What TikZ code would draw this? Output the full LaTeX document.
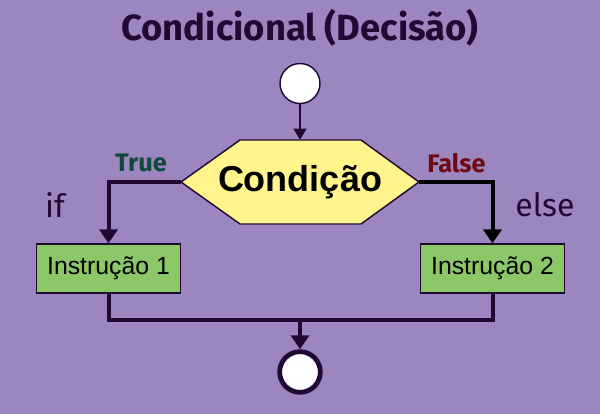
\documentclass[tikz,border=0pt]{standalone}
\usepackage{fontspec}
\setmainfont{Liberation Sans}
\newfontfamily\ubfont{Fira Sans}
\usetikzlibrary{arrows.meta}
\definecolor{bgpurple}{HTML}{9C86BF}
\definecolor{darkpurple}{HTML}{200A33}
\definecolor{hexyellow}{HTML}{FFF58C}
\definecolor{boxgreen}{HTML}{8BC766}
\definecolor{truegreen}{HTML}{0E4A3A}
\definecolor{falsered}{HTML}{6E0A14}
\tikzset{
  titletext/.style={font=\ubfont\bfseries\fontsize{27.3}{32}\selectfont, text=darkpurple},
  sidetext/.style={font=\ubfont\fontsize{24}{28}\selectfont, text=darkpurple},
  branchlabel/.style={font=\ubfont\bfseries\fontsize{19}{22}\selectfont},
  startcircle/.style={circle, draw=darkpurple, fill=white, line width=1.1pt, minimum size=30pt, inner sep=0pt},
  endcircle/.style={circle, draw=darkpurple, fill=white, line width=3.6pt, minimum size=30.5pt, inner sep=0pt},
  hexshape/.style={draw=darkpurple, fill=hexyellow, line width=1.1pt, line join=miter},
  decision/.style={rectangle, minimum width=178.5pt, minimum height=63pt, inner sep=0pt, font=\bfseries\fontsize{27}{32}\selectfont},
  instr/.style={rectangle, draw=darkpurple, fill=boxgreen, line width=1.1pt, minimum width=108pt, minimum height=36.5pt, inner sep=0pt, font=\fontsize{18.6}{22}\selectfont},
  thinarrow/.style={draw=darkpurple, line width=1.1pt, -{Triangle[width=9.75pt,length=8.25pt]}},
  thickline/.style={line width=3pt},
  thickarrow/.style={line width=3pt, -{Triangle[width=13.5pt,length=10.5pt]}},
}
\begin{document}
\begin{tikzpicture}[x=0.75pt,y=-0.75pt]
\fill[bgpurple] (0,0) rectangle (600,414);
\useasboundingbox (0,0) rectangle (600,414);
\node[titletext] (title) at (300,28) {Condicional (Decisão)};
\node[startcircle] (start) at (300,83.5) {};
\path[hexshape] (181,182) -- (240,140) -- (361,140) -- (419,182) -- (361,224) -- (240,224) -- cycle;
\node[decision] (cond) at (300,182) {Condição};
\node[instr] (box1) at (108.5,268.5) {Instrução 1};
\node[instr] (box2) at (492.5,268.5) {Instrução 2};
\node[endcircle] (end) at (300,372) {};
\coordinate (merge) at (300,320);
\draw[thinarrow] (start) -- (cond);
\draw[thickarrow, darkpurple] (cond.west) -| (box1.north);
\draw[thickarrow, black] (cond.east) -| (box2.north);
\draw[thickline, darkpurple] (box1.south) |- (merge) -| (box2.south);
\draw[thickarrow, darkpurple] (merge) -- (end);
\node[branchlabel, text=truegreen] (truelbl) at (141,163) {True};
\node[branchlabel, text=falsered] (falselbl) at (456.5,163) {False};
\node[sidetext] (iflbl) at (55,205) {if};
\node[sidetext] (elselbl) at (545,205) {else};
\end{tikzpicture}
\end{document}
